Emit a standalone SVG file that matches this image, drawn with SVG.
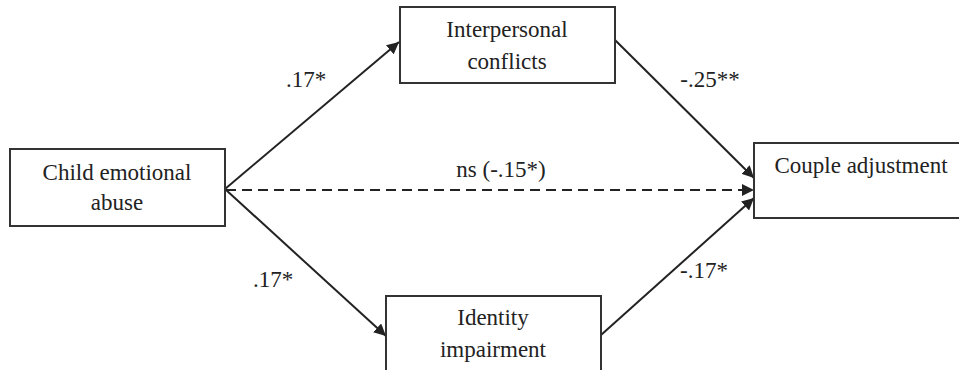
<svg xmlns="http://www.w3.org/2000/svg" width="959" height="370" viewBox="0 0 959 370">
<style>
text{font-family:"Liberation Serif","Times New Roman",serif;font-size:23px;fill:#222;text-anchor:middle}
.box{fill:#fff;stroke:#333;stroke-width:2}
.ln{stroke:#222;stroke-width:2;fill:none}
.dash{stroke-dasharray:10,6}
</style>
<defs>
<marker id="ah" viewBox="0 0 12 12" refX="12" refY="6" markerWidth="12" markerHeight="12" markerUnits="userSpaceOnUse" orient="auto"><path d="M0,0 L12,6 L0,12 z" fill="#222"/></marker>
</defs>
<g id="connectors">
<line class="ln" x1="225" y1="189" x2="399" y2="42" marker-end="url(#ah)"/>
<line class="ln" x1="225" y1="189" x2="386" y2="336" marker-end="url(#ah)"/>
<line class="ln dash" x1="226" y1="190" x2="754" y2="190" marker-end="url(#ah)"/>
<line class="ln" x1="615" y1="40" x2="754" y2="178" marker-end="url(#ah)"/>
<line class="ln" x1="601" y1="335" x2="754" y2="198" marker-end="url(#ah)"/>
<text x="306" y="87">.17*</text>
<text x="710" y="87">-.25**</text>
<text x="501" y="177">ns (-.15*)</text>
<text x="273" y="287">.17*</text>
<text x="704" y="278">-.17*</text>
</g>
<g id="child"><rect class="box" x="10" y="149" width="215" height="77"/><text x="117" y="180">Child emotional</text><text x="117" y="210">abuse</text></g>
<g id="interpersonal"><rect class="box" x="400" y="7" width="215" height="76"/><text x="507" y="37">Interpersonal</text><text x="507" y="69">conflicts</text></g>
<g id="couple"><rect class="box" x="754" y="143" width="210" height="75"/><text x="861" y="173">Couple adjustment</text></g>
<g id="identity"><rect class="box" x="386" y="296" width="215" height="80"/><text x="493" y="325">Identity</text><text x="493" y="357">impairment</text></g>
</svg>
